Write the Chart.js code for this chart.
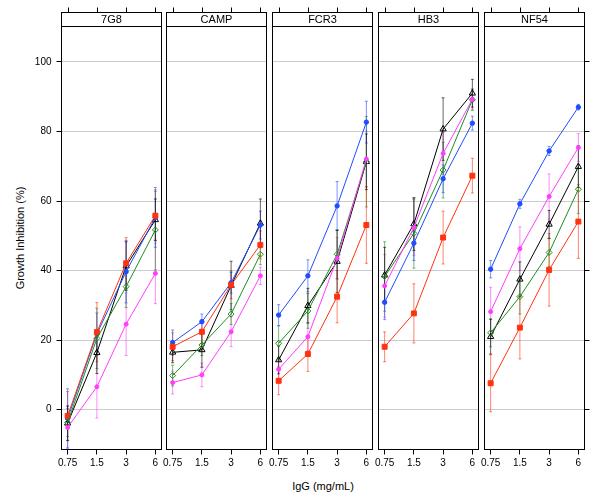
<!DOCTYPE html>
<html>
<head>
<meta charset="utf-8">
<script src="https://cdn.jsdelivr.net/npm/chart.js@4.4.1/dist/chart.umd.min.js"></script>
<style>
  body { margin: 0; background: #fff; }
  #wrap { position: relative; width: 600px; height: 497px; font-family: 'Liberation Sans', Arial, Helvetica, sans-serif; }
  #wrap canvas { position: absolute; left: 0; top: 0; }
  .title { position: absolute; font-size: 11px; color: #000; white-space: nowrap; transform: translate(-50%, -50%); }
  #yTitle { transform: translate(-50%, -50%) rotate(-90deg); }
</style>
</head>
<body>
<div id="wrap">
  <div class="title" id="xTitle" style="left:323px; top:486px;">IgG (mg/mL)</div>
  <div class="title" id="yTitle" style="left:20px; top:238px;">Growth Inhibition (%)</div>
</div>
<script>
// data: one row per strain, one value per dose
const strains = ['7G8', 'CAMP', 'FCR3', 'HB3', 'NF54'];
const doses = [0.75, 1.5, 3, 6];
const yTicks = [0, 20, 40, 60, 80, 100];

const blueMean = [
  [-2.5, 21.8, 39.7, 55.3],
  [19.3, 25.3, 36.5, 53.1],
  [27.2, 38.5, 58.6, 82.7],
  [30.9, 47.9, 66.4, 82.4],
  [40.4, 59.2, 74.4, 87.0]
];
const blueErr = [
  [8.5, 6, 9, 8.6],
  [3.6, 2.2, 3, 4],
  [3, 4.6, 7, 6],
  [5, 5, 4, 2],
  [2.5, 1.3, 1.3, 0.8]
];

const redMean = [
  [-1.8, 22.3, 42.1, 55.8],
  [18.1, 22.4, 35.9, 47.4],
  [8.3, 16.0, 32.5, 53.1],
  [18.1, 27.7, 49.5, 67.3],
  [7.6, 23.6, 40.2, 54.1]
];
const redErr = [
  [7, 8.5, 7.4, 7],
  [4, 3.5, 4, 4],
  [4, 5, 7.5, 11],
  [4.3, 8.5, 7.6, 5],
  [8.2, 9, 10.4, 10.6]
];

const greenMean = [
  [-3.7, 20.5, 35.4, 51.7],
  [9.8, 18.6, 27.5, 44.7],
  [19.1, 28.4, 44.7, 71.3],
  [38.3, 50.7, 68.9, 89.1],
  [22.1, 32.5, 45.2, 63.4]
];
const greenErr = [
  [4, 8.7, 6, 11.5],
  [3, 3, 3, 3],
  [5, 5, 7, 13],
  [10, 10, 8, 3],
  [4, 5, 4, 7]
];

const blackMean = [
  [-3.9, 16.4, 41.3, 54.6],
  [16.5, 17.2, 35.7, 53.6],
  [14.3, 29.9, 42.6, 71.3],
  [38.7, 53.4, 80.7, 91.0],
  [21.0, 37.5, 53.3, 69.9]
];
const blackErr = [
  [5, 6, 7, 6],
  [3, 5, 7, 7],
  [4, 5, 9, 8],
  [8, 7.6, 9, 4],
  [5, 5, 4, 6]
];

const magentaMean = [
  [-5.1, 6.6, 24.6, 39.2],
  [7.8, 10.0, 22.4, 38.5],
  [11.6, 21.0, 43.5, 72.1],
  [35.6, 52.4, 73.7, 89.3],
  [28.2, 46.3, 61.3, 75.4]
];
const magentaErr = [
  [6, 9, 9, 8.7],
  [3.3, 3.4, 4.3, 2.5],
  [3, 4, 6, 8],
  [9, 8, 6, 3],
  [7, 6.3, 6.5, 4]
];

const series = [
  { label: 'magenta', color: '#ff3cff', style: 'circle', radius: 2, open: false, mean: magentaMean, err: magentaErr },
  { label: 'green', color: '#1f8c1f', style: 'rectRot', radius: 3, open: true, mean: greenMean, err: greenErr },
  { label: 'red', color: '#ff3210', style: 'rect', radius: 3.5, open: false, mean: redMean, err: redErr },
  { label: 'blue', color: '#1f4cff', style: 'circle', radius: 2.2, open: false, mean: blueMean, err: blueErr },
  { label: 'black', color: '#000000', style: 'triangle', radius: 3.6, open: true, mean: blackMean, err: blackErr }
];

const font = "'Liberation Sans', Arial, Helvetica, sans-serif";
Chart.defaults.font.family = font;

// panel layout (pixels)
const W = 600, H = 497;
const panelLefts = [61.5, 166.5, 272.5, 378.5, 484.5];
const panelWidth = 100;
const plotTop = 26.5, plotBottom = 449.5;
const stripH = 14;
const xAxisH = 30;

const panelPlugin = {
  id: 'panel',
  beforeDatasetsDraw(chart) {
    const ctx = chart.ctx;
    const y = chart.scales.y;
    ctx.save();
    ctx.lineWidth = 1;
    ctx.globalAlpha = 0.6;
    chart.data.datasets.forEach((ds, k) => {
      const meta = chart.getDatasetMeta(k);
      ctx.strokeStyle = ds.borderColor;
      ds.data.forEach((pt, j) => {
        const px = meta.data[j].x;
        const lo = y.getPixelForValue(pt.y - pt.e);
        const hi = y.getPixelForValue(pt.y + pt.e);
        ctx.beginPath();
        ctx.moveTo(px, lo); ctx.lineTo(px, hi);
        ctx.moveTo(px - 1.5, lo); ctx.lineTo(px + 1.5, lo);
        ctx.moveTo(px - 1.5, hi); ctx.lineTo(px + 1.5, hi);
        ctx.stroke();
      });
    });
    ctx.restore();
  },
  afterDraw(chart, args, opts) {
    const ctx = chart.ctx;
    const a = chart.chartArea;
    const x = chart.scales.x;
    const w = a.right - a.left;
    const sTop = a.top - stripH;
    ctx.save();
    ctx.strokeStyle = '#000';
    ctx.lineWidth = 1;
    ctx.strokeRect(a.left, a.top, w, a.bottom - a.top);
    ctx.fillStyle = '#fff';
    ctx.fillRect(a.left, sTop, w, stripH);
    ctx.strokeRect(a.left, sTop, w, stripH);
    ctx.beginPath();
    x.ticks.forEach(t => {
      const px = Math.round(x.getPixelForValue(t.value)) + 0.5;
      ctx.moveTo(px, sTop);
      ctx.lineTo(px, sTop - 5);
    });
    ctx.stroke();
    ctx.fillStyle = '#000';
    ctx.font = '11px ' + font;
    ctx.textAlign = 'center';
    ctx.textBaseline = 'middle';
    ctx.fillText(opts.strip, a.left + w / 2, sTop + stripH / 2 + 0.5);
    ctx.restore();
  }
};

const wrap = document.getElementById('wrap');

strains.forEach((strain, i) => {
  const canvas = document.createElement('canvas');
  canvas.width = W;
  canvas.height = H;
  wrap.appendChild(canvas);

  const left = panelLefts[i];
  const right = left + panelWidth;
  const first = i === 0;
  const last = i === strains.length - 1;
  const yWidth = first ? 40 : (last ? 5 : 0);

  new Chart(canvas, {
    type: 'line',
    data: {
      datasets: series.map(s => ({
        label: s.label,
        data: doses.map((d, j) => ({ x: d, y: s.mean[i][j], e: s.err[i][j] })),
        borderColor: s.color,
        backgroundColor: s.color,
        borderWidth: 1,
        tension: 0,
        pointStyle: s.style,
        pointRadius: s.radius,
        pointBorderWidth: 1,
        pointBorderColor: s.color,
        pointBackgroundColor: s.open ? 'rgba(0,0,0,0)' : s.color
      }))
    },
    options: {
      responsive: false,
      animation: false,
      layout: {
        padding: {
          left: first ? left - yWidth : left,
          right: last ? W - right - yWidth : W - right,
          top: plotTop,
          bottom: H - plotBottom - xAxisH
        }
      },
      plugins: {
        legend: { display: false },
        tooltip: { enabled: false },
        panel: { strip: strain }
      },
      scales: {
        x: {
          type: 'logarithmic',
          bounds: 'data',
          min: doses[0] / Math.pow(2, 0.21),
          max: doses[doses.length - 1] * Math.pow(2, 0.21),
          afterBuildTicks: sc => { sc.ticks = doses.map(v => ({ value: v })); },
          afterFit: sc => { sc.height = xAxisH; },
          ticks: {
            autoSkip: false,
            maxRotation: 0,
            padding: 3,
            color: '#000',
            font: { size: 10 },
            callback: v => String(v)
          },
          grid: { drawOnChartArea: false, tickLength: 5, tickColor: '#000', color: '#000' },
          border: { display: false }
        },
        y: {
          position: last ? 'right' : 'left',
          bounds: 'data',
          min: -11.45,
          max: 110.2,
          afterBuildTicks: sc => { sc.ticks = yTicks.map(v => ({ value: v })); },
          afterFit: sc => { sc.width = yWidth; },
          ticks: { display: first, padding: 5, color: '#000', font: { size: 10 } },
          grid: { color: '#cccccc', tickColor: '#000', tickLength: 5, drawTicks: first || last },
          border: { display: false }
        }
      }
    },
    plugins: [panelPlugin]
  });
});
</script>
</body>
</html>
